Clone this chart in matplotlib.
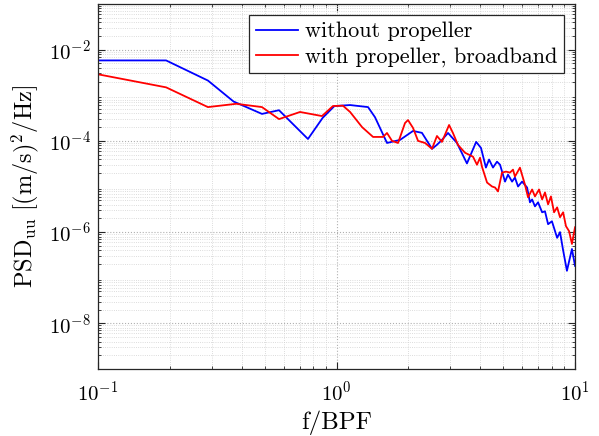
import matplotlib
matplotlib.use("Agg")
import matplotlib.pyplot as plt
from matplotlib.ticker import LogLocator, NullFormatter

plt.rcParams['font.family'] = ['cmr10', 'DejaVu Serif']
plt.rcParams['mathtext.fontset'] = 'cm'
plt.rcParams['axes.formatter.use_mathtext'] = True
plt.rcParams['axes.unicode_minus'] = False

# data (f/BPF, PSD)
f_blue = [0.096, 0.193, 0.289, 0.37, 0.487, 0.574, 0.759, 0.875, 0.98, 1.14, 1.356,
          1.45, 1.628, 1.846, 2.093, 2.281, 2.514, 2.637, 2.767, 2.934, 3.199, 3.522,
          3.85, 4.034, 4.23, 4.361, 4.529, 4.708, 4.848, 5.087, 5.236, 5.445, 5.598,
          5.768, 5.998, 6.295, 6.471, 6.607, 6.792, 6.998, 7.278, 7.482, 7.709, 8.0,
          8.413, 8.65, 8.913, 9.247, 9.705, 10.0]
psd_blue = [5.8e-3, 5.8e-3, 2.1e-3, 7.3e-4, 3.9e-4, 4.7e-4, 1.1e-4, 3.2e-4, 5.8e-4,
            6.1e-4, 5.5e-4, 3.3e-4, 9.0e-5, 1.05e-4, 1.65e-4, 1.5e-4, 6.7e-5, 8.2e-5,
            1.05e-4, 1.49e-4, 9.0e-5, 3.2e-5, 9.5e-5, 7.0e-5, 2.6e-5, 3.9e-5, 2.6e-5,
            3.5e-5, 3.0e-5, 1.28e-5, 1.82e-5, 1.28e-5, 1.57e-5, 1.0e-5, 1.28e-5, 9.5e-6,
            4.5e-6, 5.2e-6, 3.67e-6, 4.5e-6, 2.72e-6, 2.86e-6, 1.49e-6, 1.73e-6, 7.5e-7,
            1.0e-6, 4.0e-7, 1.42e-7, 4.27e-7, 1.82e-7]

f_red = [0.096, 0.193, 0.289, 0.38, 0.487, 0.574, 0.703, 0.869, 0.966, 1.064, 1.14,
         1.28, 1.423, 1.567, 1.628, 1.709, 1.811, 1.937, 1.994, 2.093, 2.197, 2.35,
         2.514, 2.637, 2.767, 2.964, 3.077, 3.228, 3.456, 3.734, 3.881, 3.997, 4.072,
         4.277, 4.488, 4.62, 4.754, 4.942, 5.136, 5.336, 5.495, 5.598, 5.875, 6.166,
         6.353, 6.607, 6.792, 7.063, 7.278, 7.482, 7.709, 7.925, 8.166, 8.413, 8.65,
         8.913, 9.162, 9.441, 9.705, 10.0]
psd_red = [3.0e-3, 1.49e-3, 5.5e-4, 6.5e-4, 5.5e-4, 3.0e-4, 4.3e-4, 3.5e-4, 5.8e-4,
           5.9e-4, 4.3e-4, 2.0e-4, 1.22e-4, 1.22e-4, 1.49e-4, 1.0e-4, 9.0e-5, 2.46e-4,
           2.86e-4, 1.92e-4, 1.0e-4, 9.0e-5, 6.7e-5, 1.28e-4, 9.5e-5, 2.23e-4, 1.49e-4,
           8.2e-5, 5.5e-5, 4.5e-5, 3.0e-5, 4.27e-5, 2.72e-5, 1.22e-5, 1.0e-5, 9.5e-6,
           7.8e-6, 2.02e-5, 2.12e-5, 2.02e-5, 2.34e-5, 1.65e-5, 2.59e-5, 1.1e-5, 5.8e-6,
           8.6e-6, 6.06e-6, 8.6e-6, 5.2e-6, 7.4e-6, 4.06e-6, 6.06e-6, 2.72e-6, 3.49e-6,
           2.12e-6, 2.72e-6, 1.35e-6, 1.05e-6, 5.5e-7, 1.28e-6]

labels = ["without propeller", "with propeller, broadband"]
yticks = [1e-8, 1e-6, 1e-4, 1e-2]
xticks = [0.1, 1, 10]

fig = plt.figure(figsize=(5.99, 4.36), dpi=100)
ax = fig.add_axes([0.1636, 0.1537, 0.7964, 0.8371])

ax.loglog(f_blue, psd_blue, color='#0000ff', lw=1.3, label=labels[0])
ax.loglog(f_red, psd_red, color='#ff0000', lw=1.3, label=labels[1])

ax.set_xlim(0.1, 10)
ax.set_ylim(1e-9, 1e-1)
ax.yaxis.set_minor_locator(LogLocator(base=10, subs=range(2, 10), numticks=30))
ax.yaxis.set_minor_formatter(NullFormatter())
ax.set_yticks(yticks)
ax.set_xticks(xticks)
ax.xaxis.set_minor_locator(LogLocator(base=10, subs=range(2, 10), numticks=30))
ax.xaxis.set_minor_formatter(NullFormatter())

ax.grid(True, which='major', color='#b0b0b0', linestyle=':', linewidth=0.8)
ax.grid(True, which='minor', color='#d0d0d0', linestyle=':', linewidth=0.6)
ax.tick_params(which='both', direction='in', top=True, right=True, colors='#262626',
               labelcolor='black', labelsize=15)
ax.tick_params(which='major', length=5)
ax.tick_params(which='minor', length=2.5)
ax.tick_params(axis='x', which='major', pad=8)
ax.tick_params(axis='y', which='major', pad=5)
for s in ax.spines.values():
    s.set_color('#262626')
    s.set_linewidth(0.9)

ax.set_xlabel('f/BPF', fontsize=18, labelpad=4)
ax.set_ylabel(r'$\mathrm{PSD}_{\mathrm{uu}}\ \mathrm{[(m/s)^2/Hz]}$', fontsize=17.5, labelpad=6)

leg = ax.legend(loc='upper right', fontsize=16, fancybox=False, framealpha=1,
                edgecolor='#262626', handlelength=1.9, borderaxespad=0.5,
                labelspacing=0.25, handletextpad=0.3, borderpad=0.3)
leg.get_frame().set_linewidth(0.9)

fig.savefig('out.png', dpi=100)
